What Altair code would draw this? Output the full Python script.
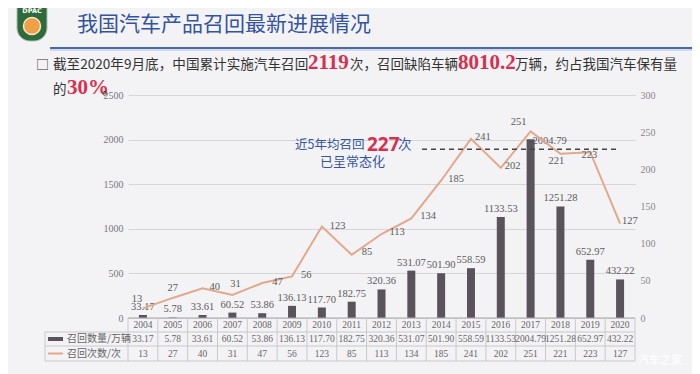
import altair as alt
import pandas as pd

# ---------------- data ----------------
years = [str(y) for y in range(2004, 2021)]
recall_units = [33.17, 5.78, 33.61, 60.52, 53.86, 136.13, 117.70, 182.75, 320.36,
                531.07, 501.90, 558.59, 1133.53, 2004.79, 1251.28, 652.97, 432.22]
recall_times = [13, 27, 40, 31, 47, 56, 123, 85, 113, 134, 185, 241, 202, 251, 221, 223, 127]
left_ticks = [0, 500, 1000, 1500, 2000, 2500]
right_ticks = [0, 50, 100, 150, 200, 250, 300]
avg_recall = [227]
legend_names = ["召回数量/万辆", "召回次数/次"]
title_text = "我国汽车产品召回最新进展情况"
bullet_parts = ["截至2020年9月底，中国累计实施汽车召回", "2119", "次，召回缺陷车辆", "8010.2",
                "万辆，约占我国汽车保有量", "的", "30%", "。"]
note_parts = ["近5年均召回", "227", "次", "已呈常态化"]

# label placement for line labels (dx, dy, align) – styling only
line_label_place = {
    "2004": (-6, -9, "center"), "2005": (0, -10, "center"), "2006": (7, -1, "left"),
    "2007": (3, -11, "center"), "2008": (10, -1, "left"), "2009": (9, -1, "left"),
    "2010": (8, -1, "left"), "2011": (10, -3, "left"), "2012": (8, -2, "left"),
    "2013": (9, -2, "left"), "2014": (7, -1, "left"), "2015": (4, -2, "left"),
    "2016": (4, -2, "left"), "2017": (-12, -9, "center"), "2018": (-4, 7, "center"),
    "2019": (-1, 3, "center"), "2020": (2, -3, "left"),
}

df = pd.DataFrame({
    "year": years,
    "units": recall_units,
    "times": recall_times,
    "units_txt": [f"{v:.2f}" for v in recall_units],
    "times_txt": [str(v) for v in recall_times],
})

W, H = 507, 223
SERIF = "Liberation Serif"
CJK = "Noto Sans CJK SC"
BAR_C = "#5b535c"
LINE_C = "#e2a88b"
BLUE = "#34549e"
RED = "#d6304f"
GRID = "#d6d6d8"
TXT = "#5a5a5a"

xenc = alt.X("year:O", scale=alt.Scale(paddingInner=0, paddingOuter=0), axis=None)
y_left = alt.Y("units:Q", scale=alt.Scale(domain=[0, 2500], nice=False),
               axis=alt.Axis(orient="left", values=left_ticks, format="d", domain=False, ticks=False,
                             labelPadding=5, labelFont=SERIF, labelFontSize=10,
                             labelColor="#777", grid=True, gridColor=GRID, title=None))
y_right = alt.Y("times:Q", scale=alt.Scale(domain=[0, 300], nice=False),
                axis=alt.Axis(orient="right", values=right_ticks, format="d", domain=False, ticks=False,
                              labelPadding=5, labelFont=SERIF, labelFontSize=10,
                              labelColor="#888", grid=False, title=None))

base = alt.Chart(df)

bars = base.mark_bar(size=8, color=BAR_C).encode(x=xenc, y=y_left)
bar_lbl = base.transform_filter(alt.datum.year != "2017").mark_text(
    font=SERIF, fontSize=10.5, color=TXT, baseline="alphabetic", dy=-5
).encode(x=xenc, y=y_left, text="units_txt:N")
bar_lbl17 = base.transform_filter(alt.datum.year == "2017").mark_text(
    font=SERIF, fontSize=10.5, color=TXT, baseline="middle", align="left", dx=2, dy=2
).encode(x=xenc, y=y_left, text="units_txt:N")
left_group = alt.layer(bars, bar_lbl, bar_lbl17)

line = base.mark_line(color=LINE_C, strokeWidth=2).encode(x=xenc, y=y_right)
line_lbls = []
for yr in years:
    dx, dy, al = line_label_place[yr]
    line_lbls.append(
        base.transform_filter(alt.datum.year == yr).mark_text(
            font=SERIF, fontSize=10.5, color=TXT, baseline="middle", align=al, dx=dx, dy=dy
        ).encode(x=xenc, y=y_right, text="times_txt:N")
    )
avg_df = pd.DataFrame({"times": avg_recall})
dashed = alt.Chart(avg_df).mark_rule(color="#444", strokeWidth=1.3, strokeDash=[5, 4]).encode(
    x=alt.value(294), x2=alt.value(489), y=y_right)
right_group = alt.layer(line, *line_lbls, dashed)

one = pd.DataFrame({"a": [0]})


def txt(t, x, y, size, color, font=CJK, weight="normal", align="left", baseline="alphabetic"):
    return alt.Chart(one).mark_text(text=t, font=font, fontSize=size, color=color,
                                    fontWeight=weight, align=align, baseline=baseline).encode(
        x=alt.value(x), y=alt.value(y))


def hrule(x1, x2, y, color, w=1):
    return alt.Chart(one).mark_rule(color=color, strokeWidth=w).encode(
        x=alt.value(x1), x2=alt.value(x2), y=alt.value(y))


deco = []
# logo
deco.append(alt.Chart(one).mark_rect(color="#2e6a3b", stroke="#a9c0ab", strokeWidth=1,
                                     cornerRadiusTopLeft=3, cornerRadiusTopRight=3,
                                     cornerRadiusBottomLeft=13, cornerRadiusBottomRight=13).encode(
    x=alt.value(-111), x2=alt.value(-81), y=alt.value(-90), y2=alt.value(-54)))
deco.append(alt.Chart(one).mark_circle(size=290, color="#ef9f45", opacity=1,
                                       stroke="#f7e7c9", strokeWidth=1.5).encode(
    x=alt.value(-96), y=alt.value(-69)))
deco.append(txt("DPAC", -96, -84, 6.5, "white", font="DejaVu Sans", weight="bold",
                align="center", baseline="middle"))
# title + rule
deco.append(txt(title_text, -51, -70, 21, BLUE, baseline="middle"))
deco.append(hrule(-78, 572, -47, "#4669b5", 2))
deco.append(hrule(-78, 572, -45, "#c9cfdc", 1.5))
# bullet text
deco.append(txt("□", -92, -26, 13, "#333"))
deco.append(txt(bullet_parts[0], -75, -26, 13.6, "#333"))
deco.append(txt(bullet_parts[1], 180, -26, 21, RED, font=SERIF, weight="bold"))
deco.append(txt(bullet_parts[2], 222, -26, 13.5, "#333"))
deco.append(txt(bullet_parts[3], 330, -26, 21, RED, font=SERIF, weight="bold"))
deco.append(txt(bullet_parts[4], 387, -26, 13.5, "#333"))
deco.append(txt(bullet_parts[5], -75, -1, 13.5, "#333"))
deco.append(txt(bullet_parts[6], -61, -1, 21, RED, font=SERIF, weight="bold"))
deco.append(txt(bullet_parts[7], -26, -1, 13.5, "#333"))
# annotation
deco.append(txt(note_parts[0], 167, 50, 12.5, BLUE, baseline="middle"))
deco.append(txt(note_parts[1], 239, 50, 19, RED, font="Noto Sans", weight="bold", baseline="middle"))
deco.append(txt(note_parts[2], 270, 50, 13.5, BLUE, baseline="middle"))
deco.append(txt(note_parts[3], 192, 67, 13, BLUE, baseline="middle"))

# data table
TB = "#c9c9cc"
deco.append(hrule(0, W, H, "#a8a8ac", 1.2))
deco.append(hrule(-83, W, H + 14, TB))
deco.append(hrule(-83, W, H + 28, TB))
deco.append(hrule(-83, W, H + 43, TB))
deco.append(base.mark_rule(color=TB).encode(
    x=alt.X("year:O", scale=alt.Scale(paddingInner=0, paddingOuter=0), axis=None, bandPosition=0),
    y=alt.value(H), y2=alt.value(H + 43)))
deco.append(alt.Chart(one).mark_rule(color=TB).encode(
    x=alt.value(W), y=alt.value(H), y2=alt.value(H + 43)))
deco.append(alt.Chart(one).mark_rule(color=TB).encode(
    x=alt.value(-83), y=alt.value(H + 14), y2=alt.value(H + 43)))
for field, yy in [("year", H + 7), ("units_txt", H + 21), ("times_txt", H + 35.5)]:
    deco.append(base.mark_text(font=SERIF, fontSize=9.5, color="#666", baseline="middle").encode(
        x=xenc, y=alt.value(yy), text=f"{field}:N"))
# table legend
deco.append(alt.Chart(one).mark_rect(color=BAR_C).encode(
    x=alt.value(-80), x2=alt.value(-65), y=alt.value(H + 19), y2=alt.value(H + 23)))
deco.append(hrule(-80, -65, H + 35.5, LINE_C, 2))
deco.append(txt(legend_names[0], -61, H + 21, 10, "#666", baseline="middle"))
deco.append(txt(legend_names[1], -61, H + 35.5, 10, "#666", baseline="middle"))
# watermark
deco.append(txt("汽车之家", 532, H + 43, 11, "#ffffff", align="center", baseline="middle"))

chart = alt.layer(left_group, right_group, *deco).resolve_scale(y="independent").properties(
    width=W, height=H,
    padding={"left": 120, "top": 87, "right": 57, "bottom": 56},
    autosize=alt.AutoSizeParams(type="none"),
    background="#f3f3f5",
).configure_view(stroke=None)

chart.save("out.html", embed_options={"renderer": "svg", "actions": False})
